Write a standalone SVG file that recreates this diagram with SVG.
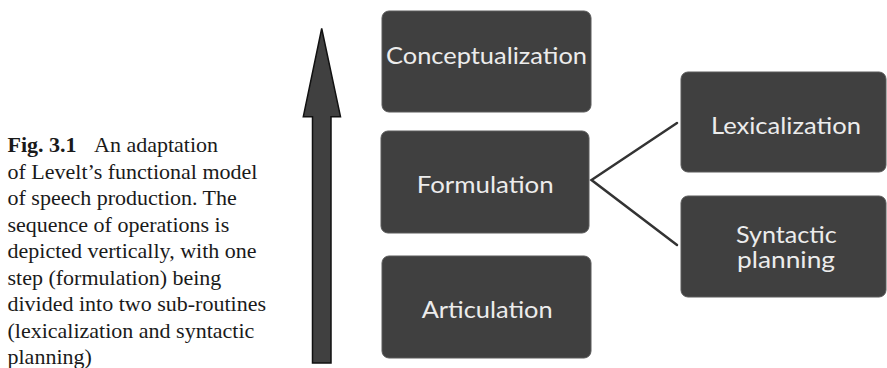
<svg xmlns="http://www.w3.org/2000/svg" width="887" height="368" viewBox="0 0 887 368">
<style>
.box{fill:#404040;stroke:#5a5a5a;stroke-width:1}
.lbl{font-family:Lato,"Open Sans","Noto Sans",sans-serif;font-size:24px;fill:#ececec}
.cap{font-family:"Liberation Serif","Times New Roman",serif;font-size:22px;fill:#1a1a1a}
.conn{stroke:#333;stroke-width:2.5;fill:none;stroke-linecap:round}
</style>
<rect width="887" height="368" fill="#fff"/>
<g id="caption">
<text class="cap" x="7.5" y="152"><tspan font-weight="bold">Fig. 3.1</tspan><tspan x="94">An adaptation</tspan></text>
<text class="cap" x="7.5" y="178.5">of Levelt’s functional model</text>
<text class="cap" x="7.5" y="205">of speech production. The</text>
<text class="cap" x="7.5" y="231.5">sequence of operations is</text>
<text class="cap" x="7.5" y="258">depicted vertically, with one</text>
<text class="cap" x="7.5" y="284.5">step (formulation) being</text>
<text class="cap" x="7.5" y="311">divided into two sub-routines</text>
<text class="cap" x="7.5" y="337.5">(lexicalization and syntactic</text>
<text class="cap" x="7.5" y="364">planning)</text>
</g>
<g id="arrow">
<polygon points="321.7,28.5 340.5,116.7 331,116.7 331,363 312.5,363 312.5,116.7 303.3,116.7" fill="#404040" stroke="#111" stroke-width="1.5" stroke-linejoin="miter"/>
</g>
<g id="connectors">
<polyline class="conn" points="677,123 591.5,180 677,245"/>
</g>
<g id="conceptualization">
<rect class="box" x="382" y="11" width="209" height="101" rx="7"/>
<text class="lbl" x="386" y="64" textLength="201" lengthAdjust="spacingAndGlyphs">Conceptualization</text>
</g>
<g id="formulation">
<rect class="box" x="381" y="131" width="208" height="102" rx="7"/>
<text class="lbl" x="416.7" y="192.7" textLength="137" lengthAdjust="spacingAndGlyphs">Formulation</text>
</g>
<g id="articulation">
<rect class="box" x="382" y="256" width="209" height="102" rx="7"/>
<text class="lbl" x="421.7" y="317.7" textLength="131" lengthAdjust="spacingAndGlyphs">Articulation</text>
</g>
<g id="lexicalization">
<rect class="box" x="681" y="72" width="205" height="100" rx="7"/>
<text class="lbl" x="711" y="134" textLength="150" lengthAdjust="spacingAndGlyphs">Lexicalization</text>
</g>
<g id="syntactic-planning">
<rect class="box" x="681" y="196" width="205" height="101" rx="7"/>
<text class="lbl" x="736" y="243" textLength="100.7" lengthAdjust="spacingAndGlyphs" style="font-size:23px">Syntactic</text>
<text class="lbl" x="737" y="268" textLength="98" lengthAdjust="spacingAndGlyphs" style="font-size:23px">planning</text>
</g>
</svg>
